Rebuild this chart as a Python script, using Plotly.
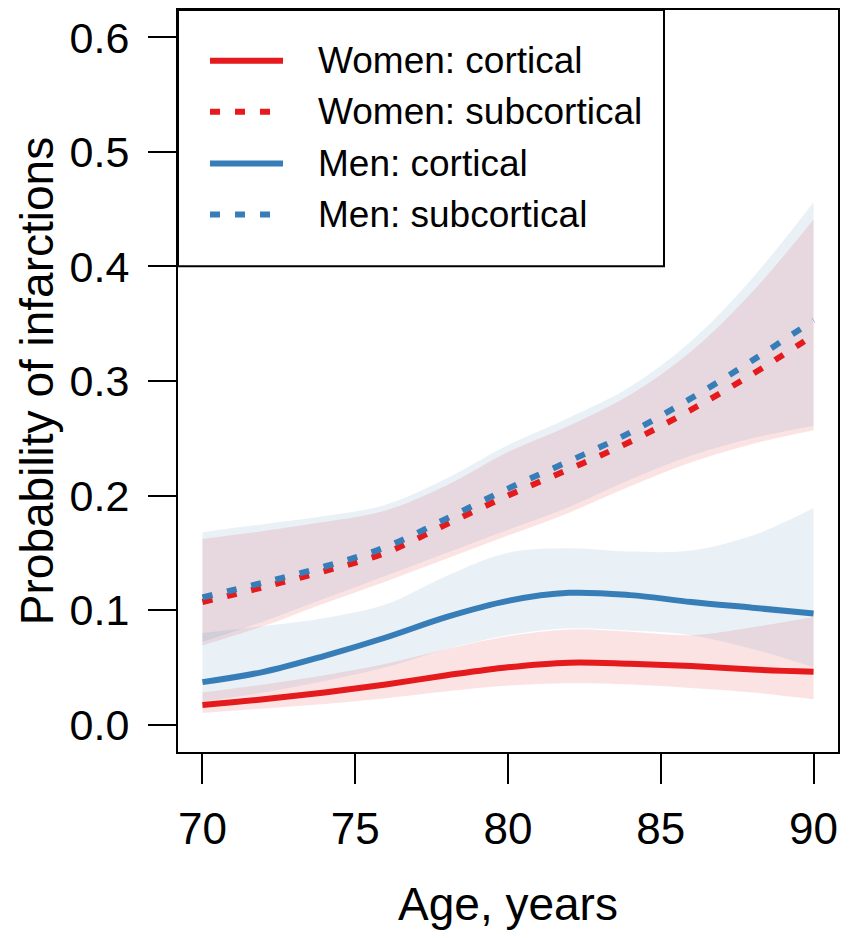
import plotly.graph_objects as go

# ---- data ----
age = [70, 72, 74, 76, 78, 80, 82, 84, 86, 88, 90]

women_cort = [0.017, 0.022, 0.028, 0.035, 0.043, 0.050, 0.054, 0.053, 0.051, 0.048, 0.046]
women_cort_lo = [0.010, 0.014, 0.018, 0.023, 0.029, 0.034, 0.036, 0.035, 0.032, 0.028, 0.022]
women_cort_hi = [0.028, 0.035, 0.043, 0.053, 0.066, 0.077, 0.083, 0.081, 0.078, 0.085, 0.094]

women_sub = [0.107, 0.120, 0.134, 0.150, 0.175, 0.200, 0.223, 0.247, 0.275, 0.306, 0.340]
women_sub_lo = [0.069, 0.086, 0.106, 0.125, 0.145, 0.165, 0.185, 0.208, 0.229, 0.245, 0.257]
women_sub_hi = [0.162, 0.169, 0.177, 0.187, 0.209, 0.238, 0.261, 0.288, 0.326, 0.378, 0.441]

men_cort = [0.037, 0.046, 0.060, 0.076, 0.094, 0.108, 0.115, 0.113, 0.107, 0.102, 0.097]
men_cort_lo = [0.020, 0.028, 0.038, 0.050, 0.066, 0.078, 0.084, 0.082, 0.078, 0.066, 0.050]
men_cort_hi = [0.080, 0.086, 0.093, 0.105, 0.130, 0.150, 0.154, 0.151, 0.152, 0.165, 0.189]

men_sub = [0.111, 0.124, 0.138, 0.155, 0.180, 0.206, 0.230, 0.255, 0.285, 0.318, 0.353]
men_sub_lo = [0.072, 0.090, 0.110, 0.130, 0.150, 0.170, 0.190, 0.214, 0.235, 0.250, 0.261]
men_sub_hi = [0.168, 0.175, 0.182, 0.192, 0.215, 0.244, 0.268, 0.295, 0.335, 0.390, 0.456]

legend_labels = ["Women: cortical", "Women: subcortical", "Men: cortical", "Men: subcortical"]
x_ticks = [70, 75, 80, 85, 90]
y_ticks = [0.0, 0.1, 0.2, 0.3, 0.4, 0.5, 0.6]

# ---- styles ----
RED = "#E41A1C"
BLUE = "#377EB8"
RED_FILL = "rgba(228,26,28,0.12)"
BLUE_FILL = "rgba(55,126,184,0.11)"
DOT = "10px,15px"
LW = 6
FONT = "Liberation Sans, Arial, Helvetica, sans-serif"

fig = go.Figure()


def band(lo, hi, fill):
    fig.add_trace(go.Scatter(x=age, y=hi, mode="lines", line=dict(width=0, shape="spline"),
                             hoverinfo="skip", showlegend=False))
    fig.add_trace(go.Scatter(x=age, y=lo, mode="lines", line=dict(width=0, shape="spline"),
                             fill="tonexty", fillcolor=fill, hoverinfo="skip", showlegend=False))


band(women_cort_lo, women_cort_hi, RED_FILL)
band(women_sub_lo, women_sub_hi, RED_FILL)
band(men_cort_lo, men_cort_hi, BLUE_FILL)
band(men_sub_lo, men_sub_hi, BLUE_FILL)

series = [
    (women_cort, RED, "solid", legend_labels[0]),
    (women_sub, RED, DOT, legend_labels[1]),
    (men_cort, BLUE, "solid", legend_labels[2]),
    (men_sub, BLUE, DOT, legend_labels[3]),
]
for ys, col, dash, name in series:
    fig.add_trace(go.Scatter(x=age, y=ys, mode="lines", name=name,
                             line=dict(color=col, width=LW, dash=dash, shape="spline"),
                             showlegend=False))

# ---- manual legend box (pixel layout converted to axis-domain fractions) ----
PL, PR, PT, PB = 178, 838, 8, 752
W, H = PR - PL, PB - PT


def fx(px):
    return (px - PL) / W


def fy(py):
    return (PB - py) / H


fig.add_shape(type="rect", xref="x domain", yref="y domain",
              x0=fx(178), x1=fx(664), y0=fy(265), y1=fy(8),
              line=dict(color="black", width=2), fillcolor="white", layer="above")
rows = [59, 110, 162, 213]
for (ys, col, dash, name), ry in zip(series, rows):
    fig.add_shape(type="line", xref="x domain", yref="y domain",
                  x0=fx(210), x1=fx(283), y0=fy(ry), y1=fy(ry),
                  line=dict(color=col, width=LW, dash=dash), layer="above")
    fig.add_annotation(xref="x domain", yref="y domain", x=fx(316), y=fy(ry),
                       text=name, showarrow=False, xanchor="left", yanchor="middle",
                       font=dict(family=FONT, size=37, color="black"))

fig.update_layout(
    width=853, height=938,
    margin=dict(l=PL, r=853 - PR, t=PT, b=938 - PB),
    paper_bgcolor="white", plot_bgcolor="white",
    font=dict(family=FONT, color="black"),
    showlegend=False,
)
fig.update_xaxes(
    range=[69.2, 90.8], tickvals=x_ticks, ticktext=[str(v) for v in x_ticks],
    showgrid=False, zeroline=False, showline=True, linecolor="black", linewidth=2, mirror=True,
    ticks="outside", ticklen=30, tickwidth=2, tickcolor="black",
    tickfont=dict(size=44, family=FONT), ticklabelstandoff=7,
    title=dict(text="Age, years", font=dict(size=46, family=FONT), standoff=36),
)
fig.update_yaxes(
    range=[-0.024, 0.624], tickvals=y_ticks, ticktext=[f"{v:.1f}" for v in y_ticks],
    showgrid=False, zeroline=False, showline=True, linecolor="black", linewidth=2, mirror=True,
    ticks="outside", ticklen=28, tickwidth=2, tickcolor="black",
    tickfont=dict(size=43, family=FONT), ticklabelstandoff=10,
    title=dict(text="Probability of infarctions", font=dict(size=46, family=FONT), standoff=2),
)

fig.write_html("out.html")
